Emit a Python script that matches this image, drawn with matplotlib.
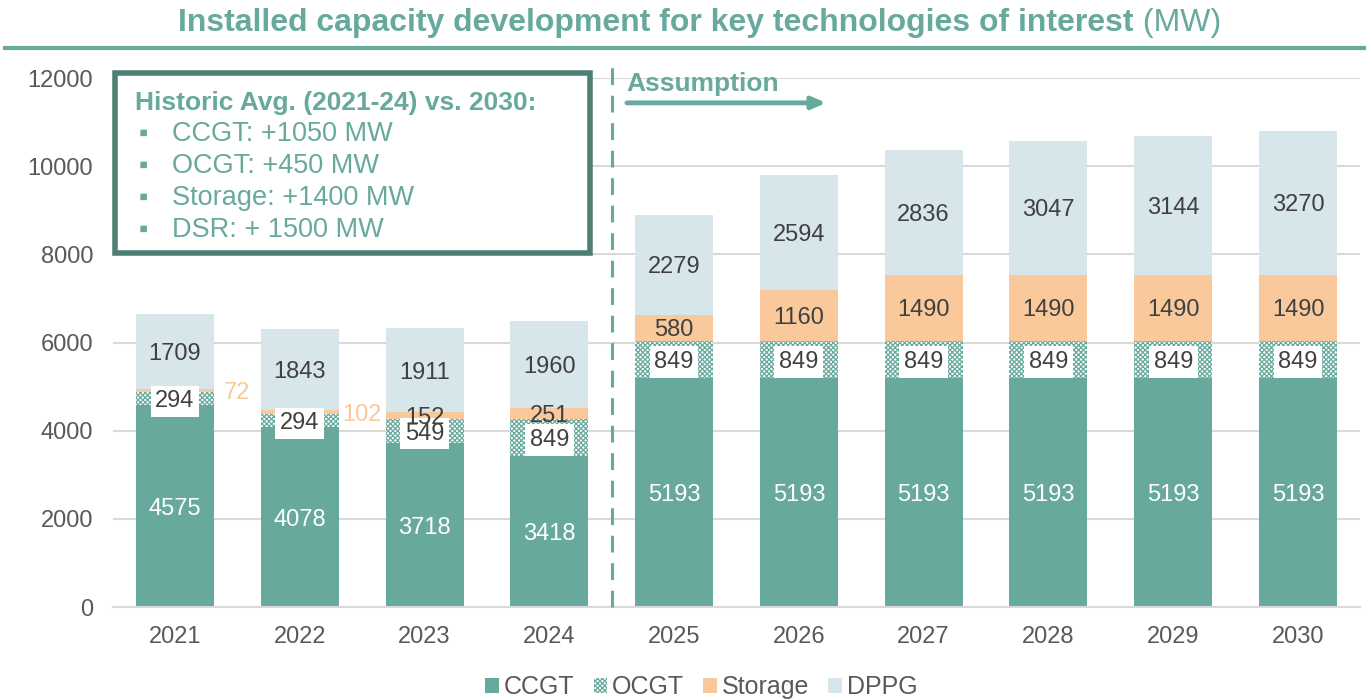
import numpy as np
import matplotlib.pyplot as plt
from matplotlib.patches import Rectangle
from matplotlib.lines import Line2D

plt.rcParams['font.family'] = ['Liberation Sans', 'DejaVu Sans']
plt.rcParams['hatch.linewidth'] = 0.9

years = ['2021', '2022', '2023', '2024', '2025', '2026', '2027', '2028', '2029', '2030']
ccgt = [4575, 4078, 3718, 3418, 5193, 5193, 5193, 5193, 5193, 5193]
ocgt = [294, 294, 549, 849, 849, 849, 849, 849, 849, 849]
storage = [72, 102, 152, 251, 580, 1160, 1490, 1490, 1490, 1490]
dppg = [1709, 1843, 1911, 1960, 2279, 2594, 2836, 3047, 3144, 3270]

box_title = "Historic Avg. (2021-24) vs. 2030:"
box_items = ["CCGT: +1050 MW", "OCGT: +450 MW", "Storage: +1400 MW", "DSR: + 1500 MW"]

teal = '#68A99D'
teal_dark = '#4E7F75'
orange = '#F9C99C'
blue = '#D7E6EB'
grey = '#595959'
label_col = '#404040'

fig = plt.figure(figsize=(13.66, 6.99), dpi=100)
ax = fig.add_axes([0.0824, 0.1316, 0.9135, 0.7568])

x = np.arange(len(years))
w = 0.625
ccgt = np.array(ccgt)
ocgt = np.array(ocgt)
storage = np.array(storage)
dppg = np.array(dppg)

ax.bar(x, ccgt, w, color=teal, zorder=2)
ax.bar(x, ocgt, w, bottom=ccgt, facecolor='white', edgecolor=teal,
       hatch='xxxxxxx', linewidth=0, zorder=2)
ax.bar(x, storage, w, bottom=ccgt + ocgt, color=orange, zorder=2)
ax.bar(x, dppg, w, bottom=ccgt + ocgt + storage, color=blue, zorder=2)

fs = 17
va = 'center_baseline'
for i in range(len(years)):
    ax.text(x[i], ccgt[i] / 2, str(ccgt[i]), ha='center', va=va,
            color='white', fontsize=fs, zorder=5)
    ax.text(x[i], ccgt[i] + ocgt[i] / 2, str(ocgt[i]), ha='center', va=va,
            color=label_col, fontsize=fs, zorder=5,
            bbox=dict(boxstyle='square,pad=0.2', fc='white', ec='none'))
    s_mid = ccgt[i] + ocgt[i] + storage[i] / 2
    if storage[i] < 120:
        ax.text(x[i] + 0.5, s_mid, str(storage[i]), ha='center', va=va,
                color=orange, fontsize=fs, zorder=6)
    else:
        ax.text(x[i], s_mid, str(storage[i]), ha='center', va=va,
                color=label_col, fontsize=fs, zorder=6)
    ax.text(x[i], ccgt[i] + ocgt[i] + storage[i] + dppg[i] / 2, str(dppg[i]),
            ha='center', va=va, color=label_col, fontsize=fs, zorder=5)

ax.set_xlim(-0.5, len(years) - 0.5)
ax.set_ylim(0, 12000)
ax.set_yticks(np.arange(0, 12001, 2000))
ax.set_xticks(x)
ax.set_xticklabels(years)
ax.tick_params(axis='both', length=0, labelsize=fs, colors=grey)
ax.tick_params(axis='y', pad=14)
ax.tick_params(axis='x', pad=14)
ax.grid(axis='y', color='#D9D9D9', linewidth=1.5, zorder=0)
ax.set_axisbelow(True)
for s in ['top', 'right', 'left']:
    ax.spines[s].set_visible(False)
ax.spines['bottom'].set_color('#D9D9D9')
ax.spines['bottom'].set_linewidth(1.5)

# divider between history and assumption
ax.axvline(3.5, ymin=0, ymax=1.04, color=teal, linewidth=2.2,
           linestyle=(0, (5.5, 3.5)), clip_on=False, zorder=3)
ax.text(0.412, 0.988, "Assumption", transform=ax.transAxes, ha='left', va='center',
        color=teal, fontsize=19, fontweight='bold')
ax.annotate('', xy=(0.574, 0.953), xytext=(0.410, 0.953), xycoords='axes fraction',
            arrowprops=dict(arrowstyle='-|>,head_length=0.8,head_width=0.35',
                            color=teal, lw=3.5))

# summary box
box = Rectangle((115 / 1366, 1 - 253 / 699), 475 / 1366, 180 / 699,
                transform=fig.transFigure, facecolor='white', edgecolor=teal_dark,
                linewidth=4, zorder=10)
fig.patches.append(box)
fig.text(135 / 1366, 1 - 103 / 699, box_title, color=teal, fontsize=19,
         fontweight='bold', va='center', ha='left', zorder=11)
for k, item in enumerate(box_items):
    yy = 1 - (134 + 32 * k) / 699
    fig.text(139 / 1366, yy, "\u25aa", color=teal, fontsize=19, va='center',
             ha='left', zorder=11)
    fig.text(172 / 1366, yy, item, color=teal, fontsize=19.5, va='center',
             ha='left', zorder=11)

# title
t1 = fig.text(178 / 1366, 1 - 23 / 699, "Installed capacity development for key technologies of interest",
              color=teal, fontsize=23, fontweight='bold', va='center', ha='left')
ax.annotate(" (MW)", xy=(1, 0), xycoords=t1, va='bottom', ha='left',
            color=teal, fontsize=23)
fig.add_artist(Line2D([5 / 1366, 1], [1 - 48 / 699, 1 - 48 / 699],
                      transform=fig.transFigure, color=teal, linewidth=3))

# legend
handles = [
    Rectangle((0, 0), 1, 1, facecolor=teal),
    Rectangle((0, 0), 1, 1, facecolor='white', edgecolor=teal, hatch='xxxxxxx', linewidth=0),
    Rectangle((0, 0), 1, 1, facecolor=orange),
    Rectangle((0, 0), 1, 1, facecolor=blue),
]
fig.legend(handles, ['CCGT', 'OCGT', 'Storage', 'DPPG'], loc='center',
           bbox_to_anchor=(0.5135, 1 - 687 / 699), ncol=4, frameon=False,
           fontsize=18, handlelength=0.55, handleheight=0.55,
           handletextpad=0.2, columnspacing=0.75, labelcolor=grey)

plt.savefig('out.png', dpi=100)
